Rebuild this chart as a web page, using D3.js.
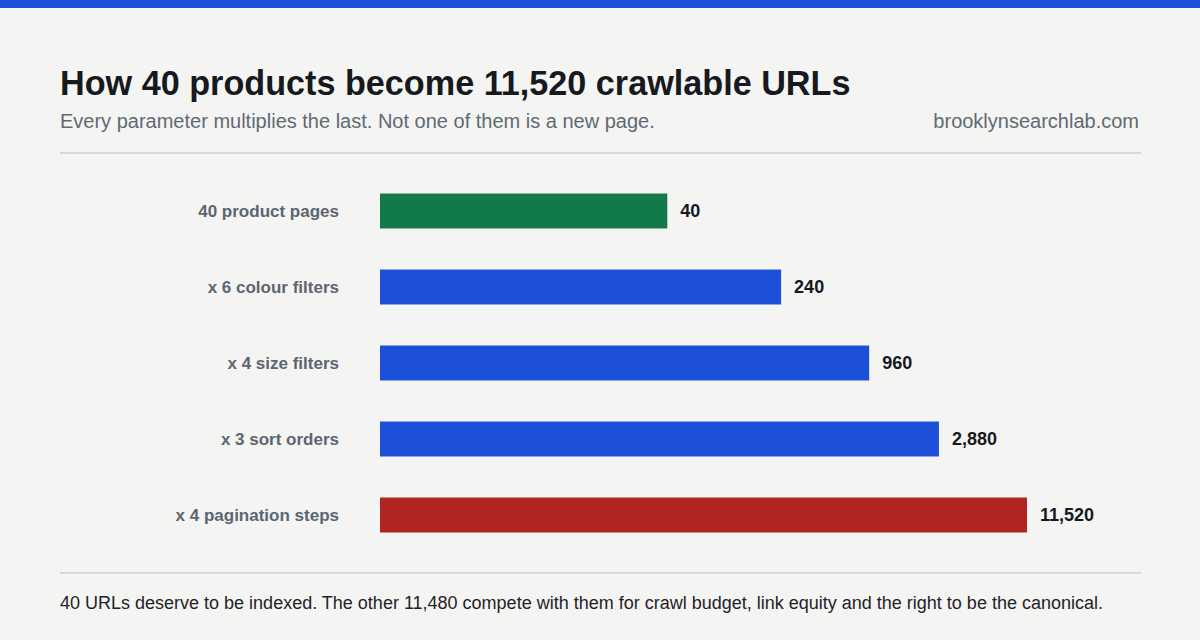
<!DOCTYPE html>
<html>
<head>
<meta charset="utf-8">
<script src="https://cdn.jsdelivr.net/npm/d3@7"></script>
<style>
  html, body { margin: 0; padding: 0; background: #f4f4f2; }
  svg { display: block; font-family: "Liberation Sans", Arial, Helvetica, sans-serif; }
</style>
</head>
<body>
<svg id="chart" width="1200" height="640"></svg>
<script>
const categories = ["40 product pages", "x 6 colour filters", "x 4 size filters", "x 3 sort orders", "x 4 pagination steps"];
const values = [40, 240, 960, 2880, 11520];
const barColors = ["#127a48", "#1c50d8", "#1c50d8", "#1c50d8", "#b0251f"];
const titleText = "How 40 products become 11,520 crawlable URLs";
const subtitleText = "Every parameter multiplies the last. Not one of them is a new page.";
const sourceText = "brooklynsearchlab.com";
const footerText = "40 URLs deserve to be indexed. The other 11,480 compete with them for crawl budget, link equity and the right to be the canonical.";

const svg = d3.select("#chart");
const W = 1200, H = 640;

svg.append("rect").attr("x", 0).attr("y", 0).attr("width", W).attr("height", H).attr("fill", "#f4f4f2");
svg.append("rect").attr("x", 0).attr("y", 0).attr("width", W).attr("height", 8).attr("fill", "#1c50d8");

svg.append("text").attr("x", 60).attr("y", 95)
  .attr("font-size", 34.2).attr("font-weight", 700).attr("fill", "#16191d")
  .text(titleText);
svg.append("text").attr("x", 60).attr("y", 128)
  .attr("font-size", 20).attr("fill", "#5f6a75")
  .text(subtitleText);
svg.append("text").attr("x", 1139).attr("y", 128).attr("text-anchor", "end")
  .attr("font-size", 20).attr("fill", "#5f6a75")
  .text(sourceText);

svg.append("line").attr("x1", 60).attr("x2", 1141).attr("y1", 153).attr("y2", 153)
  .attr("stroke", "#d6d9dd").attr("stroke-width", 2);
svg.append("line").attr("x1", 60).attr("x2", 1141).attr("y1", 573).attr("y2", 573)
  .attr("stroke", "#d6d9dd").attr("stroke-width", 2);

const x = d3.scaleLog().domain([1, 11520]).range([433, 1027]);
const y = d3.scaleBand().domain(categories).range([173, 553]).paddingInner(0.54).paddingOuter(0.27);

const barX = 380;
const rows = svg.append("g").selectAll("g").data(categories).join("g");

rows.append("rect")
  .attr("x", barX)
  .attr("y", d => y(d))
  .attr("width", (d, i) => x(values[i]) - barX)
  .attr("height", y.bandwidth())
  .attr("fill", (d, i) => barColors[i]);

rows.append("text")
  .attr("x", 339)
  .attr("y", d => y(d) + y.bandwidth() / 2)
  .attr("dy", "0.35em")
  .attr("text-anchor", "end")
  .attr("font-size", 17).attr("font-weight", 700).attr("fill", "#5c6670")
  .text(d => d);

rows.append("text")
  .attr("x", (d, i) => x(values[i]) + 13)
  .attr("y", d => y(d) + y.bandwidth() / 2)
  .attr("dy", "0.35em")
  .attr("font-size", 18).attr("font-weight", 700).attr("fill", "#16191d")
  .text((d, i) => d3.format(",")(values[i]));

svg.append("text").attr("x", 60).attr("y", 609)
  .attr("font-size", 18).attr("fill", "#1f2327")
  .text(footerText);
</script>
</body>
</html>
